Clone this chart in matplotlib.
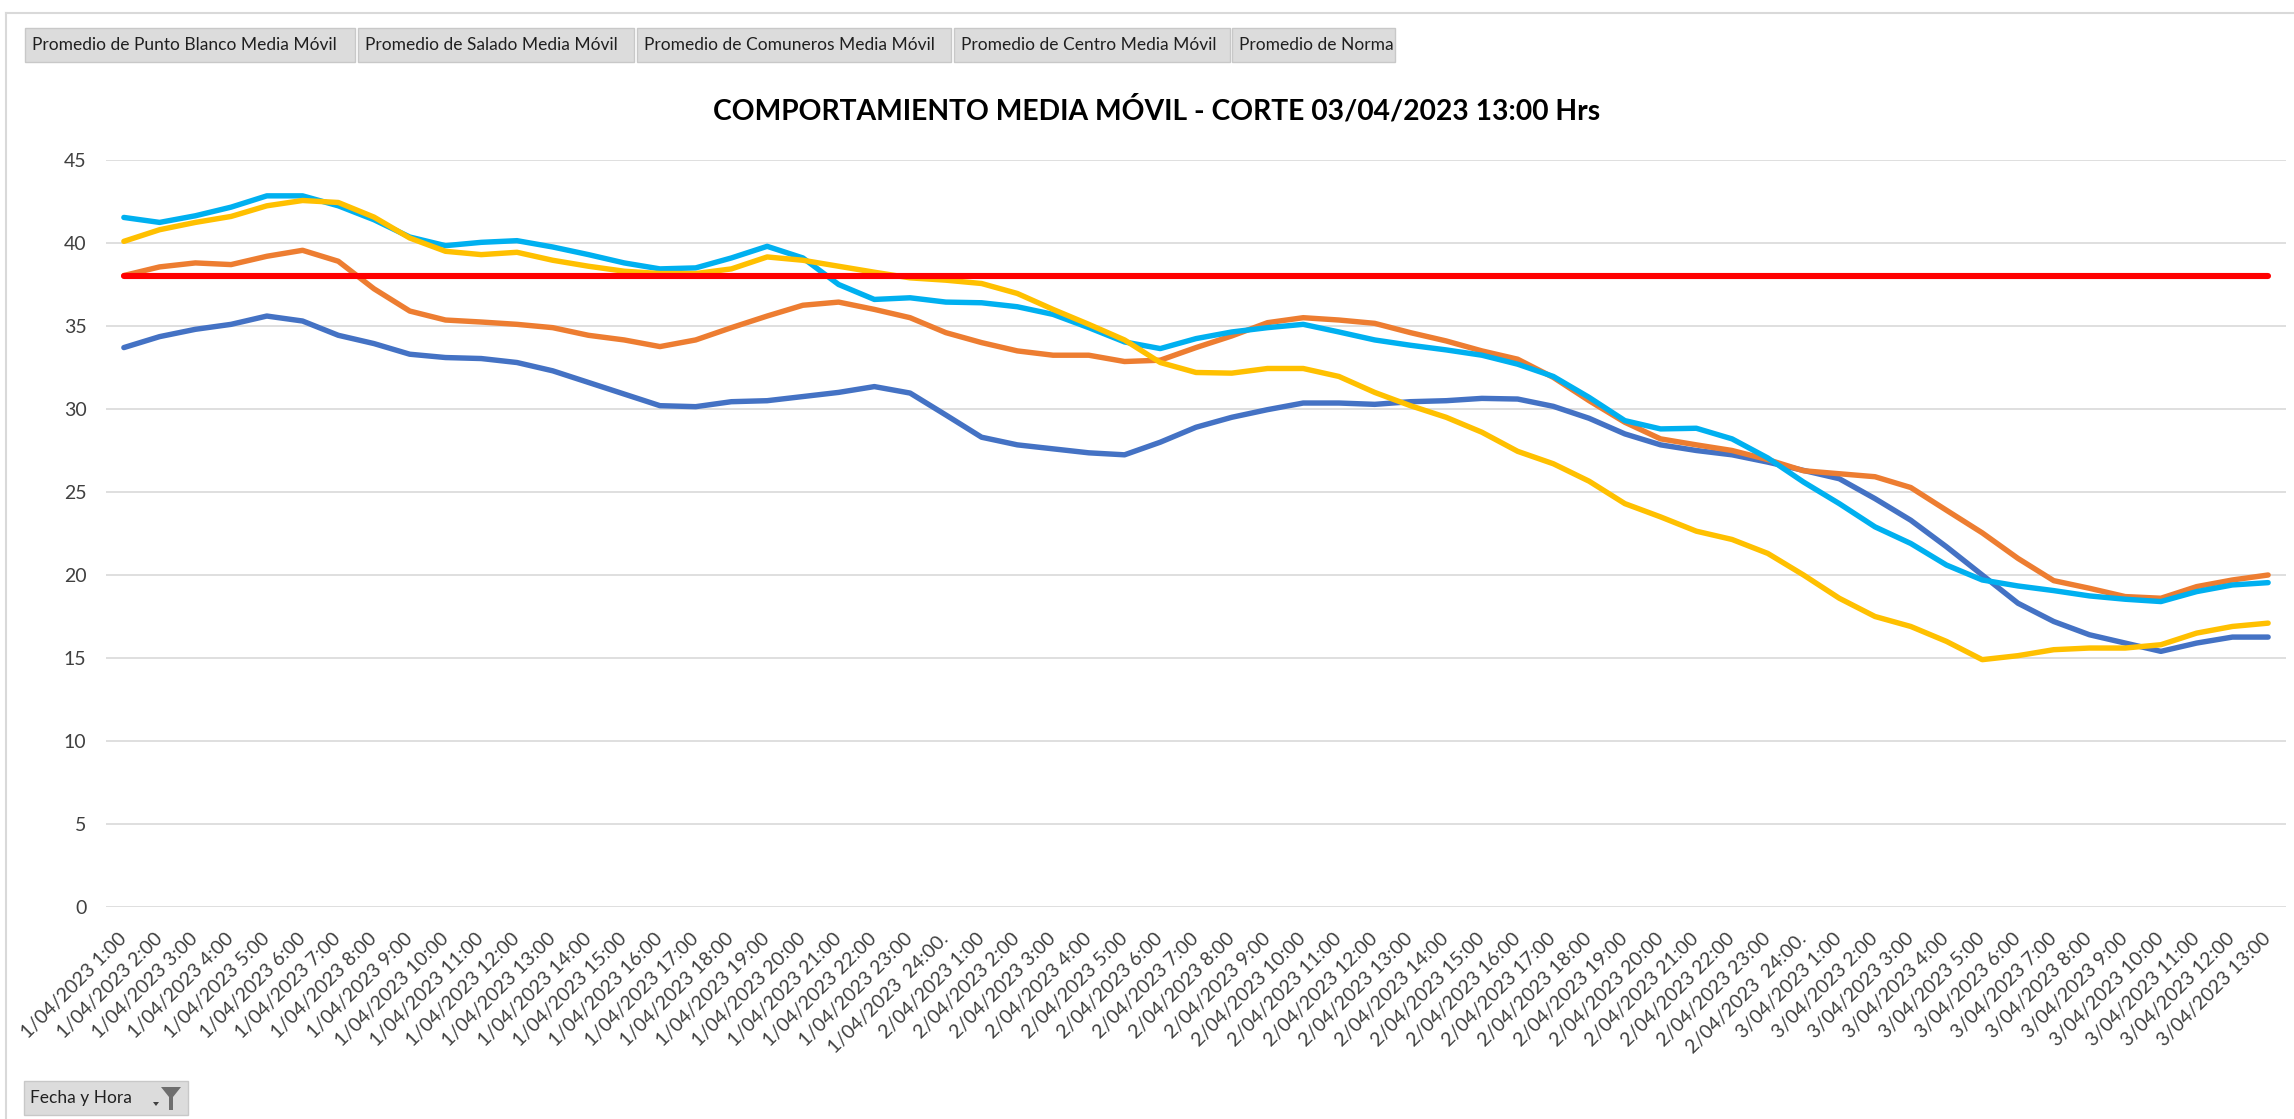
import matplotlib.pyplot as plt
from matplotlib.patches import Rectangle, Polygon
from matplotlib.lines import Line2D

# categories: hourly cut-offs from 1/04 1:00 to 3/04 13:00
fechas = ([f"1/04/2023 {h}:00" for h in range(1, 24)] + ["1/04/2023  24:00."]
          + [f"2/04/2023 {h}:00" for h in range(1, 24)] + ["2/04/2023  24:00."]
          + [f"3/04/2023 {h}:00" for h in range(1, 14)])

punto_blanco = [33.7, 34.36, 34.8, 35.1, 35.6, 35.3, 34.44, 33.94, 33.3, 33.1,
                33.04, 32.8, 32.3, 31.6, 30.9, 30.2, 30.14, 30.44, 30.5, 30.75,
                31.0, 31.35, 30.96, 29.64, 28.3, 27.84, 27.6, 27.36, 27.24, 28.0,
                28.9, 29.5, 29.96, 30.36, 30.36, 30.28, 30.44, 30.5, 30.64, 30.6,
                30.16, 29.44, 28.5, 27.84, 27.5, 27.24, 26.8, 26.3, 25.8, 24.6,
                23.3, 21.7, 20.0, 18.3, 17.2, 16.4, 15.9, 15.4, 15.9, 16.26, 16.26]
salado = [38.04, 38.56, 38.8, 38.7, 39.2, 39.56, 38.9, 37.24, 35.9, 35.36,
          35.24, 35.1, 34.9, 34.44, 34.16, 33.76, 34.16, 34.9, 35.6, 36.25,
          36.44, 36.0, 35.5, 34.6, 34.0, 33.5, 33.24, 33.24, 32.86, 32.94,
          33.7, 34.4, 35.2, 35.5, 35.36, 35.16, 34.6, 34.1, 33.5, 33.0,
          31.9, 30.5, 29.2, 28.2, 27.84, 27.5, 26.95, 26.28, 26.1, 25.92,
          25.27, 23.9, 22.54, 21.0, 19.66, 19.2, 18.7, 18.6, 19.3, 19.7, 20.0]
comuneros = [41.54, 41.24, 41.64, 42.16, 42.84, 42.84, 42.24, 41.4, 40.36, 39.84,
             40.04, 40.14, 39.76, 39.3, 38.8, 38.44, 38.5, 39.1, 39.8, 39.1,
             37.5, 36.6, 36.7, 36.44, 36.4, 36.16, 35.7, 34.9, 34.04, 33.64,
             34.24, 34.64, 34.9, 35.1, 34.64, 34.16, 33.84, 33.56, 33.24, 32.7,
             31.96, 30.7, 29.3, 28.8, 28.84, 28.2, 27.05, 25.6, 24.3, 22.9,
             21.9, 20.6, 19.7, 19.34, 19.06, 18.74, 18.54, 18.4, 19.0, 19.4, 19.54]
centro = [40.1, 40.8, 41.24, 41.6, 42.24, 42.56, 42.44, 41.56, 40.3, 39.5,
          39.3, 39.44, 38.96, 38.6, 38.3, 38.16, 38.16, 38.44, 39.16, 38.96,
          38.6, 38.24, 37.9, 37.76, 37.56, 36.96, 36.0, 35.1, 34.16, 32.8,
          32.2, 32.16, 32.44, 32.44, 31.96, 31.0, 30.2, 29.5, 28.6, 27.45,
          26.7, 25.65, 24.3, 23.5, 22.64, 22.14, 21.3, 20.0, 18.6, 17.5,
          16.9, 16.0, 14.9, 15.14, 15.5, 15.6, 15.6, 15.8, 16.5, 16.9, 17.1]
norma = [38] * len(fechas)

series = ["Promedio de Punto Blanco Media Móvil", "Promedio de Salado Media Móvil",
          "Promedio de Comuneros Media Móvil", "Promedio de Centro Media Móvil",
          "Promedio de Norma"]
colores = ["#4472C4", "#ED7D31", "#00B0F0", "#FFC000", "#FF0000"]
valores = [punto_blanco, salado, comuneros, centro, norma]

fuente = ["Lato", "DejaVu Sans"]

W, H = 2294, 1119
fig = plt.figure(figsize=(W / 100, H / 100), dpi=100)
ax = fig.add_axes([106 / W, 1 - 907 / H, (2286 - 106) / W, (907 - 160) / H])

x = range(len(fechas))
for nombre, col, val in zip(series, colores, valores):
    lw = 4.4 if nombre == "Promedio de Norma" else 3.9
    ax.plot(x, val, color=col, lw=lw, solid_capstyle="round",
            solid_joinstyle="round", label=nombre)

ax.set_xlim(-0.5, len(fechas) - 0.5)
ax.set_ylim(0, 45)
ax.set_yticks(range(0, 46, 5))
ax.grid(axis="y", color="#D9D9D9", lw=1.2)
ax.set_axisbelow(True)
for s in ax.spines.values():
    s.set_visible(False)
ax.tick_params(axis="both", length=0, colors="#404040")
ax.tick_params(axis="y", pad=14, labelsize=14)
ax.tick_params(axis="x", pad=21, labelsize=14)
ax.set_xticks(list(x))
ax.set_xticklabels(fechas, rotation=45, ha="right", va="center",
                   rotation_mode="anchor")
for lab in ax.get_xticklabels() + ax.get_yticklabels():
    lab.set_family(fuente)

fig.text(1157 / W, 1 - 110 / H, "COMPORTAMIENTO MEDIA MÓVIL - CORTE 03/04/2023 13:00 Hrs",
         ha="center", va="center", fontsize=20.3, fontweight="bold",
         family=fuente, color="black")

# chart frame (left and top edges)
fig.add_artist(Line2D([6 / W, 6 / W], [0, 1 - 13 / H], transform=fig.transFigure,
                      color="#D9D9D9", lw=1.5))
fig.add_artist(Line2D([6 / W, 1], [1 - 13 / H, 1 - 13 / H], transform=fig.transFigure,
                      color="#D9D9D9", lw=1.5))

# pivot-chart field buttons
tabs = [(25, 355), (358, 634), (637, 951), (954, 1230), (1232, 1395)]
for (x0, x1), nombre in zip(tabs, series):
    fig.add_artist(Rectangle((x0 / W, 1 - 62 / H), (x1 - x0) / W, 34 / H,
                             transform=fig.transFigure, facecolor="#DCDCDC",
                             edgecolor="#C8C8C8", lw=1))
    fig.text((x0 + 7) / W, 1 - 45 / H, nombre, ha="left", va="center", fontsize=12.5,
             family=fuente, color="#202020")

fig.add_artist(Rectangle((24 / W, 1 - 1115 / H), 164 / W, 34 / H,
                         transform=fig.transFigure, facecolor="#DCDCDC",
                         edgecolor="#C8C8C8", lw=1))
fig.text(30 / W, 1 - 1098 / H, "Fecha y Hora", ha="left", va="center", fontsize=12.5,
         family=fuente, color="#202020")
funnel = [(161, 1087), (181, 1087), (173, 1097), (173, 1110), (169, 1110), (169, 1097)]
fig.add_artist(Polygon([(px / W, 1 - py / H) for px, py in funnel], closed=True,
                       transform=fig.transFigure, facecolor="#6E6E6E", edgecolor="none"))
fig.add_artist(Polygon([(153 / W, 1 - 1102 / H), (159 / W, 1 - 1102 / H), (156 / W, 1 - 1106 / H)],
                       closed=True, transform=fig.transFigure, facecolor="#404040",
                       edgecolor="none"))

fig.savefig("out.png", dpi=100, facecolor="white")
